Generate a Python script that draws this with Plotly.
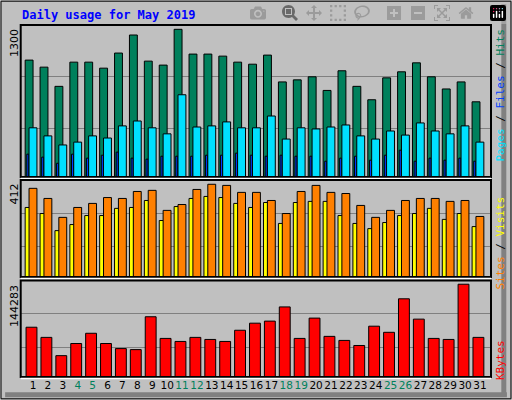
import plotly.graph_objects as go

days = list(range(1, 32))
weekend = [4, 5, 11, 12, 18, 19, 25, 26]
hits = [1029, 967, 798, 1011, 1011, 958, 1091, 1250, 1020, 985, 1300, 1082, 1082, 1064, 1011, 993,
        1073, 837, 855, 882, 762, 935, 798, 680, 873, 926, 1005, 882, 775, 837, 662]
pages_ = [433, 362, 282, 307, 362, 343, 450, 493, 433, 380, 724, 440, 450, 485, 433, 433,
          537, 334, 433, 423, 440, 458, 362, 334, 405, 369, 476, 405, 380, 450, 307]
files_ = [201, 175, 121, 201, 166, 192, 219, 166, 157, 183, 183, 183, 192, 192, 210, 192,
          183, 192, 183, 183, 139, 166, 183, 148, 192, 236, 139, 166, 148, 166, 139]
visits = [309, 282, 206, 233, 273, 273, 305, 309, 340, 251, 313, 349, 358, 353, 327, 309,
          331, 238, 331, 336, 336, 273, 238, 215, 242, 273, 282, 305, 256, 282, 224]
sites = [394, 349, 265, 309, 327, 353, 349, 380, 385, 296, 322, 389, 412, 407, 376, 376,
         340, 282, 380, 407, 376, 371, 318, 265, 296, 340, 349, 349, 336, 340, 269]
kbytes = [77400, 61600, 33200, 52100, 68000, 52100, 44200, 42600, 93700, 60000, 55300, 61600,
          58400, 55300, 72700, 83700, 86900, 109000, 60000, 91600, 63200, 56900, 49000, 79000,
          69500, 121600, 90000, 60000, 58400, 144283, 61600]
top_max, mid_max, bot_max = "1300", "412", "144283"

def bars(x, y, color, off, w, ya, xa):
    return go.Bar(x=x, y=y, offset=off, width=w, marker=dict(color=color, line=dict(color="black", width=1)),
                  xaxis=xa, yaxis=ya, showlegend=False, hoverinfo="skip")

fig = go.Figure()
fig.add_trace(bars(days, hits, "#00805c", -0.53, 0.53, "y", "x"))
fig.add_trace(bars(days, files_, "#0040ff", -0.42, 0.14, "y", "x"))
fig.add_trace(bars(days, pages_, "#00e0ff", -0.27, 0.53, "y", "x"))
fig.add_trace(bars(days, visits, "#ffff00", -0.53, 0.3, "y2", "x2"))
fig.add_trace(bars(days, sites, "#ff8000", -0.27, 0.53, "y2", "x2"))
fig.add_trace(bars(days, kbytes, "#ff0000", -0.47, 0.73, "y3", "x3"))

xr = [0.17, 31.74]
xd = [20.7/512, 491/512]
ticktext = [f"<span style='color:#00805c'>{d}</span>" if d in weekend else str(d) for d in days]
common_x = dict(range=xr, domain=xd, showgrid=False, zeroline=False, fixedrange=True)
gy = dict(showgrid=True, gridcolor="#808080", gridwidth=1, zeroline=False, showticklabels=False, ticks="")
fig.update_layout(
    width=512, height=400, margin=dict(l=0, r=0, t=0, b=0),
    paper_bgcolor="#c0c0c0", plot_bgcolor="#c0c0c0", barmode="overlay",
    font=dict(family="DejaVu Sans", size=11, color="black"),
    xaxis=dict(**common_x, anchor="y", showticklabels=False),
    xaxis2=dict(**common_x, anchor="y2", showticklabels=False),
    xaxis3=dict(**common_x, anchor="y3", tickvals=days, ticktext=ticktext, ticks="", tickangle=0,
                tickfont=dict(size=10.5, family="DejaVu Sans")),
    yaxis=dict(**gy, domain=[1-177/400, 1-25/400], range=[0, 1338], tickvals=[431, 883]),
    yaxis2=dict(**gy, domain=[1-277/400, 1-180/400], range=[0, 431], tickvals=[134, 283]),
    yaxis3=dict(**gy, domain=[1-377/400, 1-280.5/400], range=[0, 150076], tickvals=[46340, 98474]),
)
shapes = []
for (t, b) in [(25, 177), (180, 277), (280.5, 377)]:
    shapes.append(dict(type="rect", xref="paper", yref="paper", x0=xd[0], x1=xd[1], y0=1-b/400, y1=1-t/400,
                       line=dict(color="black", width=2)))
    shapes.append(dict(type="line", xref="paper", yref="paper", x0=xd[0], x1=xd[1], y0=1-(b+1.5)/400, y1=1-(b+1.5)/400,
                       line=dict(color="white", width=1.5)))
shapes.append(dict(type="rect", xref="paper", yref="paper", x0=0.002, x1=0.998, y0=0.003, y1=0.997,
                   line=dict(color="black", width=1)))
shapes.append(dict(type="line", xref="paper", yref="paper", x0=0.984, x1=0.984, y0=0.01, y1=0.99,
                   line=dict(color="#808080", width=5)))
shapes.append(dict(type="line", xref="paper", yref="paper", x0=0.01, x1=0.99, y0=0.013, y1=0.013,
                   line=dict(color="#808080", width=5)))
fig.update_layout(shapes=shapes)

mono = "DejaVu Sans Mono"
ann = [
    dict(x=20/512, y=1-15/400, text="<b>Daily usage for May 2019</b>", showarrow=False, xanchor="left",
         yanchor="middle", font=dict(family=mono, size=12, color="#0000ff")),
    dict(x=14/512, y=1-27/400, text=top_max, textangle=-90, showarrow=False, xanchor="center", yanchor="top",
         font=dict(size=11)),
    dict(x=14/512, y=1-182/400, text=mid_max, textangle=-90, showarrow=False, xanchor="center", yanchor="top",
         font=dict(size=11)),
    dict(x=14/512, y=1-283/400, text=bot_max, textangle=-90, showarrow=False, xanchor="center", yanchor="top",
         font=dict(size=11)),
    dict(x=500/512, y=1-27/400, yanchor="top", textangle=-90, showarrow=False, xanchor="center",
         text="<span style='color:#00e0ff'>Pages</span> / <span style='color:#0040ff'>Files</span> / <span style='color:#00805c'>Hits</span>",
         font=dict(family=mono, size=11, color="black")),
    dict(x=500/512, y=1-195/400, yanchor="top", textangle=-90, showarrow=False, xanchor="center",
         text="<span style='color:#ff8000'>Sites</span> / <span style='color:#ffff00'>Visits</span>",
         font=dict(family=mono, size=11, color="black")),
    dict(x=500/512, y=1-338/400, yanchor="top", textangle=-90, showarrow=False, xanchor="center",
         text="<span style='color:#ff0000'>KBytes</span>", font=dict(family=mono, size=11)),
]
for a in ann:
    a.update(xref="paper", yref="paper")
fig.update_layout(annotations=ann)
fig.write_html("out.html", post_script="document.body.style.margin='0';document.body.style.overflow='hidden';")
